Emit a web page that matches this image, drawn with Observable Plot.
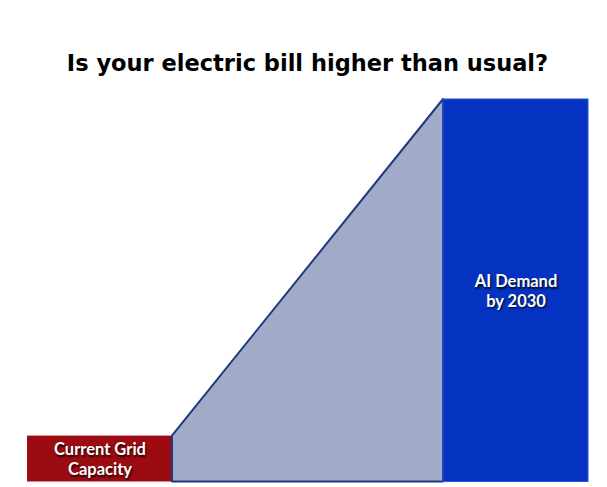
<!DOCTYPE html>
<html>
<head>
<meta charset="utf-8">
<script src="https://cdn.jsdelivr.net/npm/d3@7"></script>
<script src="https://cdn.jsdelivr.net/npm/@observablehq/plot@0.6"></script>
<style>
  html, body { margin: 0; padding: 0; background: #fff; }
  #title {
    height: 90px; box-sizing: border-box; padding-top: 50px;
    text-align: center; font-family: "DejaVu Sans", Verdana, sans-serif;
    font-weight: bold; font-size: 22.5px; color: #000; line-height: 26px;
    width: 607px; padding-left: 8px;
  }
  #chart svg g[aria-label="text"] text { text-shadow: 1px 1.5px 2px rgba(0,0,0,0.85); }
</style>
</head>
<body>
<div id="title">Is your electric bill higher than usual?</div>
<div id="chart"></div>
<script>
// Data (relative units)
const categories = ["Current Grid Capacity", "AI Demand by 2030"];
const values = [12, 100];
const labels = ["Current Grid\nCapacity", "AI Demand\nby 2030"];
const colors = ["#9d0b12", "#0533c1"];

// layout constants
const barW = 1;
const gap = 1.87;
const xs = [0, barW + gap];

const bars = categories.map((c, i) => ({
  category: c, value: values[i], label: labels[i], color: colors[i],
  x1: xs[i], x2: xs[i] + barW, xm: xs[i] + barW / 2
}));
const ramp = [
  {x: bars[0].x2, y: bars[0].value},
  {x: bars[1].x1, y: bars[1].value}
];

const chart = Plot.plot({
  width: 607,
  height: 397,
  marginTop: 9,
  marginBottom: 5.5,
  marginLeft: 27,
  marginRight: 19,
  x: {domain: [0, xs[1] + barW], axis: null},
  y: {domain: [0, values[1]], axis: null},
  marks: [
    Plot.rectY(bars.slice(0, 1), {x1: "x1", x2: "x2", y: "value", fill: "color"}),
    Plot.areaY(ramp, {x: "x", y: "y", fill: "#a1abc7", stroke: "#1e3a7b", strokeWidth: 2}),
    Plot.rectY(bars.slice(1), {x1: "x1", x2: "x2", y: "value", fill: "color", stroke: "#2a52d4", strokeWidth: 1}),
    Plot.text(bars, {
      x: "xm", y: d => d.value / 2, text: "label",
      fill: "white", fontSize: 16.5, fontWeight: "bold",
      fontFamily: "Lato, 'Open Sans', sans-serif", lineHeight: 1.2
    })
  ]
});
document.getElementById("chart").appendChild(chart);
</script>
</body>
</html>
